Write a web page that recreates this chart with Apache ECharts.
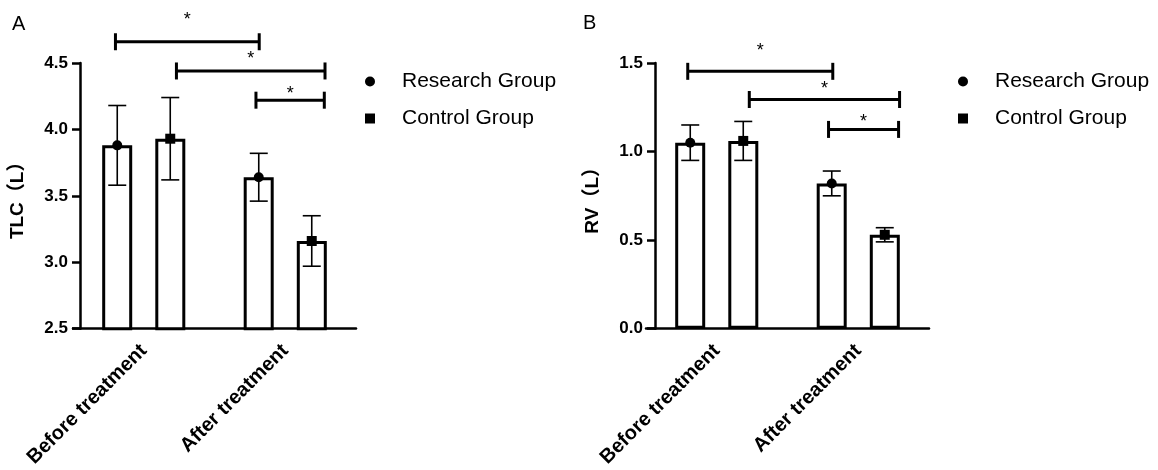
<!DOCTYPE html>
<html>
<head>
<meta charset="utf-8">
<script src="https://cdn.jsdelivr.net/npm/echarts@6/dist/echarts.min.js"></script>
<style>html,body{margin:0;padding:0;background:#fff;}#c{width:1158px;height:470px;}</style>
</head>
<body>
<div id="c"></div>
<script>
// ---- data ----
const categories = ['Before treatment', 'After treatment'];
const groups = ['Research Group', 'Control Group'];
// Panel A: TLC (L)
const tlcResearchMean = [3.88, 3.64];
const tlcResearchSD = [0.30, 0.18];
const tlcControlMean = [3.93, 3.16];
const tlcControlSD = [0.31, 0.19];
const tlcTicks = [2.5, 3.0, 3.5, 4.0, 4.5];
// brackets: [start (category units), end (category units), bracket value, asterisk value]
const tlcBrackets = [[-0.20, 0.816, 4.66, 4.85], [0.231, 1.281, 4.44, 4.56], [0.793, 1.276, 4.22, 4.30]];
// Panel B: RV (L)
const rvResearchMean = [1.05, 0.82];
const rvResearchSD = [0.10, 0.07];
const rvControlMean = [1.06, 0.53];
const rvControlSD = [0.11, 0.04];
const rvTicks = [0.0, 0.5, 1.0, 1.5];
const rvBrackets = [[-0.205, 0.82, 1.453, 1.59], [0.23, 1.292, 1.294, 1.375], [0.79, 1.285, 1.125, 1.189]];

// ---- rendering ----
const FONT = '"Liberation Sans", Arial, "Noto Sans CJK SC", sans-serif';
const BAR_OFFSET = 26.5;

function errSeries(name, gi, means, sds, shape) {
  const off = shape === 'circle' ? -BAR_OFFSET : BAR_OFFSET;
  return {
    type: 'custom', name: name, xAxisIndex: gi, yAxisIndex: gi, z: 5,
    encode: { x: 0, y: 1 },
    data: means.map((m, i) => [i, m, sds[i]]),
    renderItem: function (params, api) {
      const c = api.value(0), m = api.value(1), sd = api.value(2);
      const p = api.coord([c, m]);
      const t = api.coord([c, m + sd]);
      const b = api.coord([c, m - sd]);
      const x = p[0] + off;
      const ls = { stroke: '#000', lineWidth: 1.6 };
      const children = [
        { type: 'line', shape: { x1: x, y1: t[1], x2: x, y2: b[1] }, style: ls },
        { type: 'line', shape: { x1: x - 9, y1: t[1], x2: x + 9, y2: t[1] }, style: ls },
        { type: 'line', shape: { x1: x - 9, y1: b[1], x2: x + 9, y2: b[1] }, style: ls }
      ];
      if (shape === 'circle') {
        children.push({ type: 'circle', shape: { cx: x, cy: p[1], r: 5 }, style: { fill: '#000' } });
      } else {
        children.push({ type: 'rect', shape: { x: x - 5, y: p[1] - 5, width: 10, height: 10 }, style: { fill: '#000' } });
      }
      return { type: 'group', children: children };
    }
  };
}

function barSeries(name, gi, means) {
  return {
    type: 'bar', name: name, xAxisIndex: gi, yAxisIndex: gi, z: 2,
    data: means, barWidth: 30, barGap: '77%',
    itemStyle: { color: '#fff', borderColor: '#000', borderWidth: 3 },
    emphasis: { disabled: true }, silent: true
  };
}

function bracketSeries(gi, brackets) {
  return {
    type: 'custom', name: 'sig' + gi, xAxisIndex: gi, yAxisIndex: gi, z: 6, silent: true,
    encode: { x: 0, y: 3 },
    data: brackets.map(b => [0, b[0], b[1], b[2], b[3]]),
    renderItem: function (params, api) {
      const base = api.coord([0, api.value(3)]);
      const bw = api.size([1, 0])[0];
      const x1 = base[0] + api.value(1) * bw;
      const x2 = base[0] + api.value(2) * bw;
      const y = base[1];
      const sy = api.coord([0, api.value(4)])[1];
      const ls = { stroke: '#000', lineWidth: 3 };
      return {
        type: 'group', children: [
          { type: 'line', shape: { x1: x1, y1: y, x2: x2, y2: y }, style: ls },
          { type: 'line', shape: { x1: x1, y1: y - 8.5, x2: x1, y2: y + 8.5 }, style: ls },
          { type: 'line', shape: { x1: x2, y1: y - 8.5, x2: x2, y2: y + 8.5 }, style: ls },
          { type: 'text', x: (x1 + x2) / 2, y: sy + 4, style: { text: '*', fill: '#000', font: '18px ' + FONT, align: 'center', verticalAlign: 'middle' } }
        ]
      };
    }
  };
}

function xAxisCfg(gi) {
  return {
    type: 'category', gridIndex: gi, data: categories,
    axisLine: { lineStyle: { color: '#000', width: 2.5 } },
    axisTick: { alignWithLabel: true, length: 9, lineStyle: { color: '#000', width: 2.5 } },
    axisLabel: { rotate: 45, margin: 19, color: '#000', fontWeight: 'bold', fontSize: 20, fontFamily: FONT, interval: 0 },
    splitLine: { show: false }
  };
}

function yAxisCfg(gi, ticks, name, offset) {
  return {
    type: 'value', gridIndex: gi, min: ticks[0], max: ticks[ticks.length - 1], interval: 0.5,
    offset: offset, name: name, nameLocation: 'middle', nameGap: 53,
    nameTextStyle: { color: '#000', fontWeight: 'bold', fontSize: 19, fontFamily: FONT },
    axisLine: { show: true, lineStyle: { color: '#000', width: 2.5 } },
    axisTick: { show: true, length: 8, lineStyle: { color: '#000', width: 2.5 } },
    axisLabel: { margin: 12, color: '#000', fontWeight: 'bold', fontSize: 17, fontFamily: FONT, formatter: v => v.toFixed(1) },
    splitLine: { show: false }
  };
}

function legendCfg(left) {
  return {
    orient: 'vertical', left: left, top: 71, padding: 0, itemGap: 16,
    itemWidth: 10, itemHeight: 10, selectedMode: false,
    data: [
      { name: groups[0], icon: 'circle', itemStyle: { color: '#000' } },
      { name: groups[1], icon: 'rect', itemStyle: { color: '#000' } }
    ],
    textStyle: { color: '#000', fontSize: 21, lineHeight: 21, fontFamily: FONT, padding: [0, 0, 0, 22] }
  };
}

const chart = echarts.init(document.getElementById('c'), null, { renderer: 'canvas' });
chart.setOption({
  backgroundColor: '#fff',
  animation: false,
  title: [
    { text: 'A', left: 12, top: 14, padding: 0, textStyle: { fontSize: 20, fontWeight: 'normal', color: '#000', fontFamily: FONT } },
    { text: 'B', left: 583, top: 13, padding: 0, textStyle: { fontSize: 20, fontWeight: 'normal', color: '#000', fontFamily: FONT } }
  ],
  legend: [legendCfg(365), legendCfg(958)],
  grid: [
    { left: 73, top: 63, width: 283, height: 266 },
    { left: 646, top: 63, width: 283, height: 266 }
  ],
  xAxis: [xAxisCfg(0), xAxisCfg(1)],
  yAxis: [yAxisCfg(0, tlcTicks, 'TLC（L）', -7), yAxisCfg(1, rvTicks, 'RV（L）', -9)],
  series: [
    barSeries('bar-research-A', 0, tlcResearchMean),
    barSeries('bar-control-A', 0, tlcControlMean),
    errSeries(groups[0], 0, tlcResearchMean, tlcResearchSD, 'circle'),
    errSeries(groups[1], 0, tlcControlMean, tlcControlSD, 'rect'),
    bracketSeries(0, tlcBrackets),
    barSeries('bar-research-B', 1, rvResearchMean),
    barSeries('bar-control-B', 1, rvControlMean),
    errSeries(groups[0], 1, rvResearchMean, rvResearchSD, 'circle'),
    errSeries(groups[1], 1, rvControlMean, rvControlSD, 'rect'),
    bracketSeries(1, rvBrackets)
  ]
});
</script>
</body>
</html>
